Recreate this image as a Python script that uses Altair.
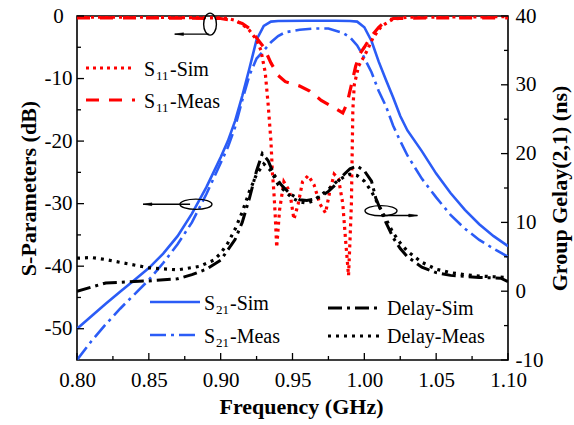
import altair as alt
import pandas as pd

# ---------------- S21 (left axis, dB) ----------------
f_s21_sim = [0.80, 0.81, 0.82, 0.83, 0.84, 0.85, 0.86, 0.87, 0.88, 0.89, 0.90, 0.905,
             0.91, 0.915, 0.92, 0.925, 0.93, 0.935, 0.94, 0.96, 0.98, 0.99, 0.995,
             1.00, 1.005, 1.01, 1.015, 1.02, 1.025, 1.03, 1.04, 1.05, 1.06, 1.07,
             1.08, 1.09, 1.10]
s21_sim = [-50, -48, -46, -44.1, -42.2, -40.3, -38, -35.2, -31.6, -27.4, -22.6, -20,
           -16.8, -12.8, -8.4, -3.8, -1.6, -0.9, -0.8, -0.75, -0.75, -0.8, -0.9,
           -1.8, -4.0, -7.3, -10.2, -13.0, -16.0, -18.3, -21.6, -25.2, -28.3, -31.0,
           -33.3, -35.2, -36.8]

f_s21_meas = [0.80, 0.81, 0.82, 0.83, 0.84, 0.85, 0.86, 0.87, 0.88, 0.89, 0.90, 0.905,
              0.91, 0.915, 0.92, 0.925, 0.929, 0.935, 0.94, 0.945, 0.955, 0.965, 0.975,
              0.985, 0.99, 0.995, 1.00, 1.005, 1.01, 1.015, 1.02, 1.025, 1.03, 1.04,
              1.05, 1.06, 1.07, 1.08, 1.09, 1.10]
s21_meas = [-55, -52, -49.3, -46.8, -44.5, -42.2, -39.5, -36.5, -33, -28.5, -23.5, -21,
            -17.8, -13.5, -9.5, -6.8, -5.8, -4.2, -3.2, -2.6, -2.2, -2.0, -2.0,
            -2.7, -3.4, -4.7, -6.7, -9.0, -12.0, -14.4, -17.5, -20.0, -22.3, -26.0,
            -29.0, -31.8, -34.0, -35.8, -37.2, -38.5]

# ---------------- S11 (left axis, dB) ----------------
f_s11_sim = [0.80, 0.85, 0.90, 0.905, 0.91, 0.915, 0.92, 0.925, 0.928, 0.931, 0.933,
             0.935, 0.936, 0.937, 0.938, 0.939, 0.941, 0.944, 0.948, 0.951, 0.954,
             0.957, 0.961, 0.965, 0.969, 0.973, 0.976, 0.979, 0.982, 0.985, 0.987,
             0.989, 0.990, 0.991, 0.992, 0.993, 0.996, 0.999, 1.002, 1.006, 1.012,
             1.02, 1.03, 1.10]
s11_sim = [-0.2, -0.2, -0.3, -0.4, -0.7, -1.3, -2.3, -3.8, -5.5, -9, -14,
           -20, -25, -28, -32, -37, -31, -26.5, -28, -32.5, -30,
           -26.5, -25.5, -27, -30, -31.5, -28, -25.3, -26, -30, -36,
           -41.5, -36, -30, -15, -11, -8, -6.8, -5.5, -3.5, -1.6,
           -0.5, -0.2, -0.1]

f_s11_meas = [0.80, 0.85, 0.90, 0.91, 0.915, 0.92, 0.925, 0.93, 0.935, 0.94, 0.945,
              0.955, 0.962, 0.97, 0.98, 0.985, 0.988, 0.991, 0.994, 0.997, 1.00,
              1.004, 1.01, 1.015, 1.02, 1.05, 1.10]
s11_meas = [-0.3, -0.3, -0.4, -0.8, -1.2, -2.0, -3.5, -5.0, -7.5, -9.5, -10.5,
            -11.2, -12.0, -13.5, -14.8, -15.5, -14.0, -11.0, -8.0, -6.0, -5.0,
            -3.5, -1.8, -0.8, -0.4, -0.3, -0.3]

# ---------------- Group delay (right axis, ns) ----------------
f_delay_sim = [0.80, 0.82, 0.85, 0.87, 0.88, 0.89, 0.90, 0.91, 0.915, 0.92, 0.925,
               0.929, 0.933, 0.937, 0.942, 0.948, 0.955, 0.96, 0.965, 0.97, 0.975,
               0.98, 0.985, 0.99, 0.995, 1.00, 1.005, 1.008, 1.012, 1.015, 1.02,
               1.025, 1.03, 1.04, 1.05, 1.06, 1.08, 1.095, 1.10]
delay_sim = [0.0, 1.2, 1.5, 1.8, 2.4, 3.2, 4.5, 7.5, 10, 13.5, 17.5,
             20, 19, 17, 15.5, 14.2, 13.3, 13.2, 13.4, 13.8, 14.5,
             15.5, 16.8, 17.8, 18.2, 17.5, 16, 13.5, 11.5, 10, 7.8,
             6.2, 5.0, 3.5, 2.7, 2.3, 2.0, 1.9, 1.4]

f_delay_meas = [0.80, 0.81, 0.82, 0.83, 0.85, 0.87, 0.885, 0.895, 0.90, 0.905, 0.91,
                0.915, 0.92, 0.925, 0.93, 0.935, 0.94, 0.945, 0.95, 0.955, 0.96,
                0.965, 0.97, 0.975, 0.98, 0.985, 0.99, 0.995, 1.00, 1.005, 1.01,
                1.015, 1.02, 1.025, 1.03, 1.04, 1.05, 1.06, 1.07, 1.08, 1.09, 1.10]
delay_meas = [4.8, 4.9, 4.6, 4.2, 3.4, 3.1, 3.6, 4.5, 5.5, 7.0, 9.0,
              11.5, 14.5, 17.0, 18.5, 17.5, 15.5, 14.5, 13.5, 13.0, 12.8,
              13.2, 14.0, 14.8, 15.8, 16.5, 17.0, 16.8, 16.0, 14.5, 12.5,
              10.5, 8.5, 7.0, 5.8, 4.2, 3.2, 2.7, 2.4, 2.2, 2.1, 2.0]

# axis ticks
x_major = [0.80, 0.85, 0.90, 0.95, 1.00, 1.05, 1.10]
x_minor = [0.825, 0.875, 0.925, 0.975, 1.025, 1.075]
yl_major = [-50, -40, -30, -20, -10, 0]
yl_minor = [-45, -35, -25, -15, -5]
yr_major = [-10, 0, 10, 20, 30, 40]
yr_minor = [-5, 5, 15, 25, 35]

# annotation ellipses (centre) and arrows (start, end) in data units
ell_left_top = {"f": 0.8926, "v": -1.3}
arrow_left_top = {"f": 0.892, "f2": 0.868, "v": -2.9}
ell_left_mid = {"f": 0.8828, "v": -30.1}
arrow_left_mid = {"f": 0.8787, "f2": 0.846, "v": -30.1}
ell_right = {"f": 1.0116, "v": 11.7}
arrow_right = {"f": 1.0116, "f2": 1.037, "v": 11.0}

W, H = 431, 344
SERIF = "Liberation Serif"
BLUE = "#2B5CF6"
RED = "#FF0000"
BLACK = "#000000"

XS = alt.Scale(domain=[0.8, 1.1], nice=False, zero=False)
YLS = alt.Scale(domain=[-55, 0], nice=False, zero=False)
YRS = alt.Scale(domain=[-10, 40], nice=False, zero=False)

common = dict(ticks=False, tickSize=0, domain=False, grid=False, labelFont=SERIF,
              labelFontSize=21, labelColor="black", labelFlush=False, labelOverlap=False,
              titleFont=SERIF, titleFontSize=22, titleFontWeight="bold",
              titleColor="black")
x_axis = alt.Axis(values=x_major, format=".2f", labelPadding=9,
                  title="Frequency (GHz)", titlePadding=6, titleX=224, **common)
yl_axis = alt.Axis(values=yl_major, labelExpr="datum.value + ''",
                   labelAlign="center", labelBaseline="middle", labelPadding=19,
                   title="S-Parameters (dB)", titlePadding=4, **common)
yr_axis = alt.Axis(values=yr_major, labelExpr="datum.value + ''",
                   labelAlign="left", labelBaseline="middle", labelPadding=7,
                   title="Group Gelay(2,1) (ns)", titlePadding=7, titleAngle=270,
                   titleBaseline="top", orient="right", **common)

X = alt.X("f:Q", scale=XS, axis=x_axis)
YL = alt.Y("v:Q", scale=YLS, axis=yl_axis)
YR = alt.Y("v:Q", scale=YRS, axis=yr_axis)


def frame(fs, vs):
    return pd.DataFrame({"f": fs, "v": vs})


def curve(fs, vs, y, color, dash, width):
    kw = dict(color=color, strokeWidth=width, clip=True, strokeCap="butt")
    if dash:
        kw["strokeDash"] = dash
    return alt.Chart(frame(fs, vs)).mark_line(**kw).encode(x=X, y=y, order="f:Q")


one = pd.DataFrame({"k": [0]})

# left-axis group: S21 and S11 curves, left ticks, bottom ticks, annotations
left_layers = [
    curve(f_s21_sim, s21_sim, YL, BLUE, None, 2.6),
    curve(f_s21_meas, s21_meas, YL, BLUE, [16, 5, 3, 5], 2.6),
    curve(f_s11_sim, s11_sim, YL, RED, [3, 4], 3.2),
    curve(f_s11_meas, s11_meas, YL, RED, [13, 10], 3.2),
]

for vals, length in ((x_major, 7), (x_minor, 4)):
    left_layers.append(
        alt.Chart(pd.DataFrame({"f": vals})).mark_rule(color="black", strokeWidth=1.3)
        .encode(x=X, y=alt.value(H), y2=alt.value(H - length)))
for vals, length in ((yl_major, 7), (yl_minor, 4)):
    left_layers.append(
        alt.Chart(pd.DataFrame({"v": vals})).mark_rule(color="black", strokeWidth=1.3)
        .encode(y=YL, x=alt.value(0), x2=alt.value(length)))

ELL_H = "M -1 0 A 1 0.32 0 1 1 1 0 A 1 0.32 0 1 1 -1 0 Z"
ELL_V = "M -0.58 0 A 0.58 1 0 1 1 0.58 0 A 0.58 1 0 1 1 -0.58 0 Z"
HEAD_L = "M 0 0 L 2.2 -0.35 L 2.2 0.35 Z"
HEAD_R = "M 0 0 L -2.2 -0.35 L -2.2 0.35 Z"


def ellipse(c, y, shape, size):
    return alt.Chart(pd.DataFrame([c])).mark_point(
        shape=shape, size=size, filled=False, stroke="black", strokeWidth=1.4, opacity=1
    ).encode(x=X, y=y)


def arrow(a, y, head):
    df = pd.DataFrame([a])
    shaft = alt.Chart(df).mark_rule(color="black", strokeWidth=1.3).encode(
        x=X, x2="f2:Q", y=y)
    tip = alt.Chart(df).mark_point(
        shape=head, size=64, filled=True, fill="black", stroke="black",
        strokeWidth=0.5, opacity=1
    ).encode(x=alt.X("f2:Q", scale=XS, axis=x_axis), y=y)
    return [shaft, tip]


left_layers.append(ellipse(ell_left_top, YL, ELL_V, 484))
left_layers += arrow(arrow_left_top, YL, HEAD_L)
left_layers.append(ellipse(ell_left_mid, YL, ELL_H, 1024))
left_layers += arrow(arrow_left_mid, YL, HEAD_L)

# legend: line sample, main letter, subscript, suffix
legend_items = [
    # label, sub, suffix, color, dash, width, x0, x1, y_line, x_text, y_base
    ("S", "11", "-Sim", RED, [3, 4], 3.2, 9, 58, 52, 67, 60),
    ("S", "11", "-Meas", RED, [13, 10], 3.2, 9, 58, 84, 67, 92),
    ("S", "21", "-Sim", BLUE, None, 2.6, 73, 123, 286, 127, 294),
    ("S", "21", "-Meas", BLUE, [16, 5, 3, 5], 2.6, 73, 123, 319, 127, 327),
    ("Delay-Sim", "", "", BLACK, [14, 5, 3, 5], 3.0, 251, 305, 292, 310, 299),
    ("Delay-Meas", "", "", BLACK, [3, 5], 3.2, 251, 305, 320, 310, 327),
]

legend_layers = []
for lab, sub, suf, col, dash, wid, x0, x1, yl, xt, yb in legend_items:
    kw = dict(color=col, strokeWidth=wid, strokeCap="butt")
    if dash:
        kw["strokeDash"] = dash
    legend_layers.append(alt.Chart(one).mark_rule(**kw).encode(
        x=alt.value(x0), x2=alt.value(x1), y=alt.value(yl)))
    txt = dict(font=SERIF, fontSize=20, color="black", align="left", baseline="alphabetic")
    legend_layers.append(alt.Chart(one).mark_text(**txt).encode(
        x=alt.value(xt), y=alt.value(yb), text=alt.value(lab)))
    if sub:
        legend_layers.append(alt.Chart(one).mark_text(**dict(txt, fontSize=13)).encode(
            x=alt.value(xt + 12), y=alt.value(yb + 4), text=alt.value(sub)))
        legend_layers.append(alt.Chart(one).mark_text(**txt).encode(
            x=alt.value(xt + 26), y=alt.value(yb), text=alt.value(suf)))

left = alt.layer(*left_layers, *legend_layers)

# right-axis group: group delay curves, right ticks, annotation
right_layers = [
    curve(f_delay_sim, delay_sim, YR, BLACK, [14, 5, 3, 5], 3.0),
    curve(f_delay_meas, delay_meas, YR, BLACK, [3, 5], 3.2),
]
for vals, length in ((yr_major, 7), (yr_minor, 4)):
    right_layers.append(
        alt.Chart(pd.DataFrame({"v": vals})).mark_rule(color="black", strokeWidth=1.3)
        .encode(y=YR, x=alt.value(W), x2=alt.value(W - length)))
right_layers.append(ellipse(ell_right, YR, ELL_H, 1024))
right_layers += arrow(arrow_right, YR, HEAD_R)
right = alt.layer(*right_layers)

chart = alt.layer(left, right).resolve_scale(y="independent").properties(
    width=W, height=H,
    padding={"left": 77, "top": 16, "right": 66, "bottom": 65},
    autosize=alt.AutoSizeParams(type="none"),
    background="white",
).configure_view(stroke="black", strokeWidth=1.6)

chart.save("out.html", embed_options={"renderer": "svg", "actions": False})
